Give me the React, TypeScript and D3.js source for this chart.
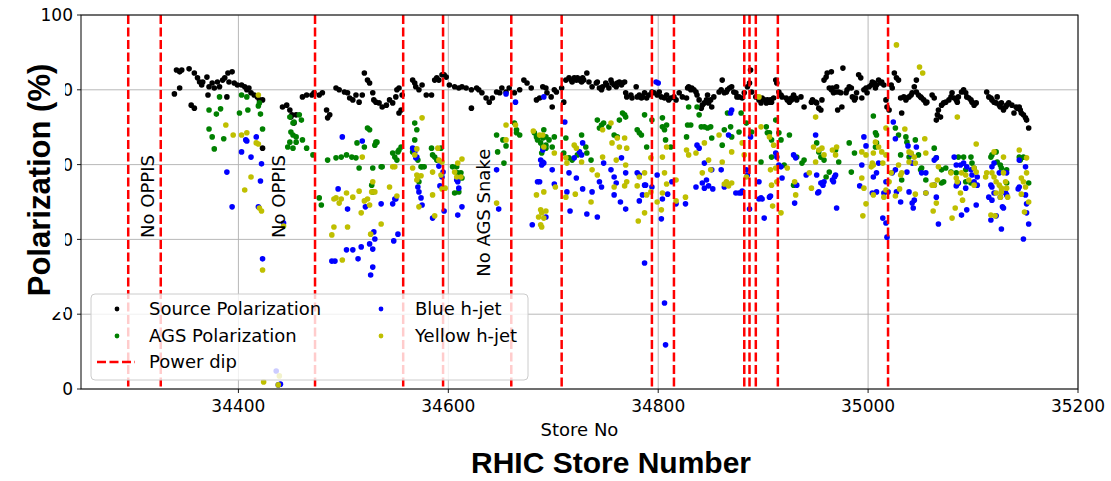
import React from "react";
import * as d3 from "d3";

// ---------- data (store number, polarization %) ----------
const sourcePol: [number, number][] = [
[34339,78.9],[34341,85.3],[34344,84.8],[34346,85.3],[34344,80.5],[34353,85.6],[34355,75.9],[34358,75.1],[34358,84.5],[34361,83.2],[34363,82.1],[34365,81.3],[34366,82.1],[34370,83.4],[34371,78.6],[34372,80.8],[34375,81.8],[34377,80.5],[34380,82.1],[34382,80.8],[34385,82.6],[34387,83.2],[34389,78.1],[34390,84.5],[34391,82.1],[34394,84.8],[34396,81.8],[34399,81.3],[34403,81.3],[34406,80.8],[34408,80.0],[34410,80.5],[34412,79.2],[34415,78.6],[34418,78.1],[34420,77.3],[34423,77.3],[34423,64.4],
[34442,75.4],[34446,75.9],[34449,74.6],[34451,73.3],[34453,71.1],[34450,72.7],[34455,73.3],[34461,78.1],[34465,78.6],[34470,78.6],[34472,79.2],[34477,78.6],[34480,79.2],[34484,74.6],[34487,73.3],[34485,72.5],[34493,80.5],[34496,80.0],[34501,79.4],[34504,79.2],[34506,77.8],[34509,77.3],[34512,78.6],[34515,76.7],[34518,78.6],[34520,84.5],[34523,82.6],[34525,81.8],[34528,79.2],[34529,77.3],[34531,76.7],[34534,76.5],[34537,75.4],[34541,75.9],[34544,77.3],[34547,76.5],[34550,78.1],[34551,80.0],[34553,80.5],[34555,74.6],[34556,78.6],[34553,73.8],[34566,82.6],[34568,81.8],[34569,80.8],[34572,80.0],[34575,81.3],[34579,78.6],[34584,78.6],[34587,82.6],[34589,83.2],[34591,82.6],[34594,84.0],[34596,84.0],[34598,83.4],[34601,81.3],[34606,80.8],[34610,80.5],[34613,80.8],[34617,80.5],[34622,80.0],[34622,75.1],[34627,80.5],[34629,80.0],[34632,79.2],[34636,77.8],[34639,76.7],[34642,77.8],[34646,79.4],[34649,79.2],[34651,80.5],[34655,79.4],[34658,80.5],[34663,79.2],[34668,80.0],[34672,82.6],[34675,81.8],[34679,80.5],[34684,77.3],[34687,77.8],[34690,80.8],
[34693,80.5],[34694,79.2],[34698,78.1],[34699,75.4],[34701,80.0],[34703,79.4],[34708,80.5],[34710,76.7],[34712,82.6],[34715,83.2],[34717,82.6],[34718,82.1],[34720,83.2],[34722,82.6],[34723,83.2],[34725,82.6],[34727,82.1],[34728,83.2],[34729,82.6],[34732,84.5],[34734,82.1],[34737,80.8],[34741,81.8],[34742,82.1],[34744,80.5],[34746,80.0],[34747,80.8],[34750,81.8],[34751,81.3],[34753,80.5],[34755,82.6],[34756,81.8],[34758,81.3],[34760,80.8],[34761,81.8],[34763,82.1],[34765,81.3],[34766,81.8],[34768,82.1],[34769,79.2],[34770,78.1],[34774,78.6],[34775,77.8],[34779,80.8],[34780,78.1],[34782,78.6],[34784,77.8],[34785,78.1],[34787,79.2],[34789,77.8],[34791,78.6],[34794,79.4],[34796,79.2],[34799,78.6],[34801,79.4],[34803,78.1],[34806,77.8],[34808,78.6],[34810,77.3],[34812,77.8],[34815,78.1],[34817,77.3],[34820,79.2],[34823,78.1],[34827,77.8],[34828,80.5],[34829,80.8],[34831,80.0],[34832,80.5],[34834,80.0],[34836,79.4],[34837,78.6],[34839,77.3],[34841,75.1],[34842,75.9],[34844,76.5],[34846,77.3],[34847,78.6],[34848,76.5],[34850,77.3],[34851,75.4],[34853,78.1],[34858,79.4],[34860,80.0],[34861,82.6],[34863,79.2],[34865,79.4],[34866,80.0],[34868,80.5],[34870,80.8],[34872,79.4],[34874,79.2],[34875,78.1],[34877,78.1],[34880,77.8],[34882,79.2],[34885,80.8],[34887,81.8],[34888,85.3],[34889,79.4],[34893,78.1],[34896,77.3],[34898,76.5],[34899,77.8],[34901,77.3],[34903,76.5],[34904,77.3],[34906,76.7],[34907,77.3],[34908,76.7],[34910,77.8],[34912,82.6],[34913,81.8],[34915,79.4],[34917,78.6],[34918,78.1],[34922,77.8],[34923,77.3],[34925,76.7],[34927,77.8],[34927,77.3],[34929,78.6],[34931,77.8],[34932,77.3],[34936,78.1],[34939,75.4],[34946,76.7],[34947,77.3],[34950,76.7],[34951,76.5],[34953,75.1],[34955,74.6],[34956,77.3],[34958,82.6],[34960,83.4],[34961,84.5],[34963,80.5],[34965,84.8],[34965,80.0],[34966,80.5],[34967,79.2],[34969,79.4],[34970,80.8],[34971,74.6],
[34972,79.4],[34974,79.2],[34975,75.4],[34976,85.8],[34979,79.2],[34980,80.0],[34982,80.8],[34984,80.5],[34985,78.1],[34987,77.3],[34988,77.8],[34989,79.2],[34991,84.0],[34993,83.2],[34994,77.8],[34996,80.0],[34998,80.5],[34999,79.2],[35001,80.8],[35003,81.3],[35004,82.1],[35006,81.8],[35007,80.5],[35008,81.3],[35010,82.6],[35012,81.8],[35013,82.1],[35015,81.3],[35017,77.3],[35018,75.4],[35020,74.6],[35022,81.3],[35023,80.5],[35025,84.5],[35027,83.2],[35029,82.6],[35031,77.8],[35032,73.8],[35034,78.1],[35036,77.3],[35037,77.8],[35039,78.1],[35041,78.6],[35042,79.2],[35044,80.8],[35046,82.6],[35046,79.4],[35048,78.6],[35050,78.1],[35051,77.8],[35053,77.3],[35055,76.5],[35056,76.7],[35061,78.6],[35063,77.8],[35065,71.9],[35066,73.3],[35067,74.6],[35069,72.7],[35070,75.9],[35072,76.5],[35074,76.7],[35077,77.3],[35079,78.1],[35080,79.2],[35082,77.8],[35084,77.3],[35085,76.7],[35086,78.1],[35089,79.4],[35091,80.0],[35093,79.2],[35094,78.1],[35096,77.8],[35098,77.3],[35099,76.7],[35101,75.9],[35103,76.5],[35113,79.4],[35115,78.1],[35117,77.8],[35118,77.3],[35120,76.7],[35122,76.5],[35123,78.1],[35125,75.9],[35126,75.4],[35127,76.5],[35129,74.6],[35131,75.4],[35132,75.9],[35134,76.5],[35137,75.9],[35139,73.8],[35141,75.4],[35142,75.1],[35144,75.4],[35145,74.6],[35146,73.8],[35148,73.3],[35150,72.5],[35151,71.9],[35153,69.8]
];

const agsPol: [number, number][] = [
[34382,78.1],[34403,78.6],[34408,78.1],[34372,74.6],[34383,74.9],[34379,73.5],[34401,73.8],[34409,74.6],[34420,76.5],[34419,75.7],[34421,73.5],[34372,69.5],[34375,67.4],[34386,66.9],[34377,64.2],[34423,69.5],
[34449,72.7],[34452,71.1],[34453,71.4],[34460,71.9],[34458,73.3],[34450,68.7],[34452,67.9],[34449,66.0],[34447,64.7],[34452,64.4],[34455,66.0],[34455,67.4],[34461,66.6],[34465,64.4],[34471,62.6],[34485,61.2],[34493,61.8],[34498,62.0],[34503,62.6],[34508,62.0],[34512,61.8],[34515,59.1],[34525,69.3],[34531,66.0],[34530,65.2],[34528,59.1],[34527,54.5],[34528,52.7],[34537,59.4],[34547,63.1],[34549,62.0],[34551,61.2],[34553,63.9],[34555,64.7],[34568,71.1],[34570,69.3],[34568,66.6],[34566,63.4],[34571,61.2],[34575,59.4],[34577,59.4],[34572,55.4],[34584,64.4],[34585,62.6],[34587,62.0],[34589,61.2],[34593,64.4],[34604,59.4],[34609,57.8],[34612,57.8],[34613,56.4],[34609,55.9],[34606,52.4],[34610,52.7],[34477,51.1],[34479,49.2],[34513,65.8],[34520,64.7],[34523,69.8],[34532,66.0],[34536,59.4],[34552,63.4],[34574,59.4],[34608,59.4],[34646,67.9],[34647,63.4],[34653,60.4],[34655,65.0],[34652,66.6],[34663,71.1],[34665,68.5],[34668,67.9],[34665,69.3],[34682,68.5],[34684,67.4],[34685,66.6],[34690,67.1],[34691,69.3],[34693,65.2],[34690,64.7],
[34693,67.4],[34688,65.8],[34696,66.6],[34701,67.4],[34699,64.7],[34693,64.4],[34689,63.1],[34712,67.1],[34710,63.1],[34715,61.8],[34718,61.2],[34723,62.6],[34727,67.9],[34731,64.7],[34732,63.1],[34736,61.2],[34742,71.9],[34744,69.8],[34746,70.6],[34748,71.1],[34753,70.1],[34758,67.9],[34761,67.4],[34763,71.9],[34766,73.8],[34768,73.3],[34769,72.7],[34780,69.3],[34782,68.5],[34784,67.9],[34787,73.3],[34789,64.7],[34794,71.9],[34804,72.5],[34804,70.1],[34806,69.3],[34808,70.6],[34807,66.6],[34812,64.7],[34827,67.4],[34828,70.6],[34831,70.6],[34829,75.4],[34837,75.4],[34839,73.3],[34841,70.1],[34844,70.1],[34847,69.8],[34850,70.1],[34851,67.1],[34861,65.2],[34863,69.3],[34866,73.8],[34869,70.1],[34870,67.4],[34877,68.7],[34879,73.8],[34884,71.1],[34889,68.7],[34898,60.7],[34903,70.1],[34904,68.5],[34906,68.5],[34908,66.6],[34908,62.0],[34912,71.9],[34915,68.5],[34917,66.6],[34920,59.9],[34925,67.9],[34932,62.0],[34937,60.4],[34939,61.2],[34951,65.8],[34953,63.4],[34955,62.0],[34958,61.2],[34960,56.7],[34963,58.0],[34929,54.5],
[35005,73.0],[35007,68.5],[35008,67.9],[35008,65.8],[35007,64.7],[35026,69.8],[35029,67.9],[35031,62.6],[35036,67.4],[35037,66.0],[35039,62.0],[35045,66.6],[35048,62.6],[35050,58.6],[35051,59.1],[35063,64.4],[35055,55.9],[35065,61.8],[35070,58.6],[35072,55.4],[35074,59.1],[35079,58.0],[35084,57.8],[35086,62.0],[35091,62.0],[35093,58.6],[35098,62.0],[35099,60.4],[35101,59.1],[35117,62.0],[35118,62.6],[35122,63.4],[35123,60.7],[35126,59.9],[35127,59.1],[35132,58.6],[35144,62.0],[35145,61.2],[35148,62.0],[35153,55.1],[34984,58.0],[34982,65.8],[34987,63.1],[34969,63.9],[34972,60.7],[35032,55.9],[35070,55.1],[35093,55.4],[35098,55.1],[35132,55.1]
];

const blueJet: [number, number][] = [
[34407,66.6],[34408,66.3],[34417,67.4],[34403,63.4],[34412,62.0],[34389,58.0],[34394,48.7],[34422,60.2],[34421,55.6],[34419,48.7],[34443,44.4],[34423,34.8],[34438,1.1],[34436,4.8],[34440,1.3],
[34499,67.4],[34518,66.3],[34495,53.5],[34504,48.1],[34566,64.4],[34569,61.8],[34568,63.4],[34570,62.0],[34571,54.0],[34572,52.7],[34574,51.1],[34575,49.2],[34591,59.6],[34594,56.7],[34595,58.0],[34608,55.9],[34610,53.7],[34613,48.7],[34549,50.8],[34655,78.9],[34664,76.7],[34691,78.1],[34646,58.6],[34690,63.9],[34690,60.7],[34691,60.4],[34687,55.4],[34489,34.2],[34492,34.2],[34503,37.2],[34509,37.2],[34514,34.8],[34517,38.0],[34525,38.8],[34528,37.4],[34528,32.6],[34526,30.5],[34521,48.7],[34536,49.5],[34529,42.0],[34530,40.1],[34547,49.5],[34550,50.8],[34548,39.6],[34552,41.4],[34585,45.7],[34592,54.3],[34596,47.6],[34609,46.5],[34609,55.4],[34648,48.1],[34680,43.9],[34685,55.4],[34693,46.0],
[34688,61.2],[34689,59.9],[34699,58.6],[34711,71.4],[34728,65.8],[34725,63.4],[34727,62.6],[34720,61.8],[34722,56.4],[34715,57.8],[34713,52.7],[34737,52.7],[34744,55.4],[34748,60.4],[34755,58.6],[34758,56.7],[34760,55.1],[34765,61.8],[34769,57.8],[34780,57.8],[34782,57.2],[34787,54.5],[34799,57.2],[34798,82.1],[34800,81.8],[34813,55.4],[34837,65.2],[34839,64.4],[34844,60.4],[34846,55.9],[34851,58.6],[34860,58.6],[34867,67.9],[34869,73.8],[34870,74.6],[34874,52.4],[34879,52.4],[34884,58.6],[34885,57.2],[34888,67.4],[34896,55.4],[34898,51.1],[34912,63.1],[34913,62.0],[34915,59.9],[34917,59.4],[34918,56.4],[34929,62.6],[34931,61.8],[34932,54.5],[34941,57.2],[34950,67.9],[34951,57.2],[34955,55.1],[34958,55.4],[34966,55.9],[34969,57.2],
[34701,54.8],[34716,47.6],[34728,53.5],[34732,46.8],[34742,46.0],[34746,54.0],[34758,51.9],[34764,50.0],[34769,48.1],[34782,50.3],[34785,51.9],[34788,54.5],[34794,54.0],[34803,45.5],[34804,50.8],[34787,33.7],[34806,23.0],[34807,11.8],[34809,52.1],[34817,49.5],[34826,49.5],[34836,54.0],[34842,55.1],[34844,53.7],[34848,54.3],[34852,53.5],[34863,54.0],[34877,52.4],[34880,52.9],[34887,48.1],[34896,50.8],[34899,50.8],[34901,45.7],[34906,51.3],[34907,51.6],[34930,49.7],[34957,54.5],[34952,52.4],[34970,48.4],
[35024,71.4],[35026,66.9],[34996,67.4],[34998,65.0],[35046,64.7],[35038,65.0],[35041,62.8],[35065,61.8],[35063,61.2],[35082,62.0],[35084,59.9],[35088,59.9],[35091,60.4],[35094,59.4],[35098,58.6],[35099,57.2],[35104,56.7],[35118,59.4],[35120,60.4],[35125,57.8],[35132,57.8],[35144,61.2],[35150,59.4],[35008,57.8],[35005,56.7],[35010,60.4],[35037,58.0],[35042,60.4],[35026,58.6],[35004,52.4],[35008,52.7],[34953,52.7],[34956,55.1],[34968,56.7],[34967,55.4],[34994,59.9],[35017,55.4],[35015,52.4],[35023,57.8],[35027,52.7],[35039,52.7],[35055,57.8],[35051,57.8],[35055,52.4],[35063,54.5],[35065,51.3],[35084,54.3],[35086,55.1],[35093,53.7],[35101,55.4],[35104,54.5],[35117,54.5],[35120,52.4],[35126,51.3],[35131,52.4],[35144,54.0],[35150,51.9],
[34992,54.3],[35014,45.7],[35017,44.4],[35018,40.6],[35019,52.7],[35031,50.0],[35042,49.7],[35043,48.4],[35044,50.5],[35067,44.1],[35085,54.8],[35089,46.5],[35094,47.9],[35103,49.2],[35115,51.3],[35118,50.5],[35118,54.0],[35117,45.2],[35122,46.3],[35127,42.8],[35128,48.7],[35129,48.4],[35132,51.9],[35143,53.5],[35148,40.1],[35151,49.5],[35151,47.1],[35153,44.1]
];

const yellowJet: [number, number][] = [
[34419,78.6],[34388,70.6],[34395,67.9],[34403,67.9],[34408,68.5],[34417,65.8],[34419,65.5],[34412,56.7],[34406,53.2],[34420,48.4],[34422,47.6],[34443,43.6],[34423,31.8],[34424,1.9],[34438,1.1],[34439,3.5],
[34491,50.8],[34498,50.8],[34509,51.3],[34518,62.0],[34527,52.7],[34530,52.7],[34523,50.8],[34544,54.0],[34547,59.4],[34551,51.6],[34566,59.1],[34570,64.2],[34575,72.5],[34570,57.2],[34571,56.7],[34574,57.0],[34585,51.9],[34590,64.4],[34591,61.2],[34594,60.7],[34593,57.2],[34608,56.7],[34609,60.4],[34613,61.5],
[34499,34.5],[34489,41.2],[34491,43.3],[34504,43.3],[34496,49.7],[34503,52.4],[34515,52.9],[34520,50.3],[34525,49.2],[34517,47.1],[34526,41.4],[34536,44.1],[34570,55.9],[34572,48.7],[34587,46.3],[34594,53.5],[34597,53.7],[34646,49.7],[34684,51.9],[34691,52.7],[34686,46.0],[34689,47.1],[34689,43.3],[34693,47.6],
[34568,62.6],[34549,59.4],[34528,55.4],[34493,51.1],[34585,58.0],[34606,58.0],[34655,66.6],[34655,70.6],[34664,70.6],[34681,69.0],[34687,67.9],[34690,67.9],[34612,56.7],
[34691,64.7],[34701,63.1],[34712,61.8],[34713,60.4],[34720,65.2],[34722,64.4],[34727,60.7],[34737,58.6],[34742,57.2],[34747,69.3],[34747,62.0],[34755,71.1],[34756,65.8],[34761,67.1],[34763,64.7],[34768,67.1],[34770,64.4],[34760,61.2],[34769,59.9],[34770,55.4],[34782,56.7],[34787,57.8],[34793,61.8],[34793,52.7],[34804,62.0],[34806,57.8],[34808,64.7],[34817,55.9],[34827,63.9],[34829,62.6],[34836,63.1],[34842,57.8],[34844,65.8],[34848,61.2],[34850,58.6],[34858,67.9],[34861,60.7],[34865,55.4],[34870,63.4],[34880,65.8],[34882,62.6],[34884,56.7],[34896,78.1],[34898,70.1],[34906,67.4],[34907,58.6],[34908,54.5],[34910,65.2],[34912,59.1],[34913,55.4],[34923,59.1],[34930,55.4],[34931,51.9],[34944,57.8],[34946,53.7],[34950,72.7],[34948,64.7],[34950,60.7],[34953,63.9],[34956,64.4],[34958,62.6],[34969,62.6],[34970,64.7],
[34688,47.9],[34691,45.7],[34688,43.9],[34702,54.0],[34712,51.3],[34721,52.1],[34736,50.0],[34758,54.0],[34768,54.3],[34780,54.3],[34781,44.9],[34787,47.1],[34789,51.9],[34799,50.0],[34803,47.9],[34804,52.4],[34808,54.8],[34817,50.3],[34826,51.3],[34863,54.8],[34867,54.3],[34870,55.1],[34909,48.9],[34917,47.1],
[35027,92.0],[35049,86.1],[35052,84.5],[35085,72.7],[35017,69.8],[35035,69.5],[35054,66.9],[35103,65.5],[35007,66.0],[35010,64.7],[35013,63.4],[35005,63.1],[34966,63.9],[34994,63.4],[34998,62.6],[35004,60.4],[35003,59.4],[35005,59.9],[35014,60.4],[35017,62.6],[35039,63.4],[35041,63.1],[35044,62.0],[35039,60.7],[35045,60.4],[35055,63.1],[35031,57.2],[35032,57.8],[35029,59.9],[35022,57.8],[35020,55.4],[34994,56.4],[34996,53.7],[35063,54.5],[35066,55.9],[35067,59.4],[35079,57.8],[35084,56.4],[35085,55.4],[35089,57.8],[35093,57.2],[35096,55.9],[35101,59.1],[35103,58.0],[35112,56.7],[35113,57.8],[35118,57.8],[35120,56.7],[35122,55.4],[35125,54.5],[35127,53.7],[35131,55.4],[35129,57.8],[35129,62.0],[35120,63.4],[35144,63.9],[35151,61.8],[35146,56.4],[35148,55.4],[35150,54.0],[35151,57.8],[35045,52.1],[35026,51.6],[35055,52.4],[35005,51.9],[35015,51.3],
[34998,49.5],[34995,46.3],[35017,53.2],[35030,53.5],[35061,54.5],[35065,49.7],[35062,47.6],[35083,48.4],[35080,45.7],[35088,52.4],[35090,50.5],[35101,54.5],[35117,46.5],[35121,46.3],[35122,52.4],[35126,51.3],[35127,52.7],[35132,53.7],[35133,51.3],[35146,52.1],[35149,47.3],[35153,50.0]
];

const powerDips: number[] = [34295, 34326, 34473, 34557, 34595, 34660, 34708, 34794, 34815, 34882, 34887, 34893, 34914, 35019];

const noteLabels: string[] = ["No OPPIS", "No OPPIS", "No AGS Snake"];
const noteStores: number[] = [34320, 34444, 34640];
const notePols: number[] = [40.4, 40.4, 30.0];

const xTicks: number[] = [34400, 34600, 34800, 35000, 35200];
const yTicks: number[] = [0, 20, 40, 60, 80, 100];

const seriesNames: string[] = ["Source Polarization", "AGS Polarization", "Power dip", "Blue h-jet", "Yellow h-jet"];

// ---------- layout ----------
const W = 1111;
const H = 481;
const L = 81, R = 1078, T = 15, B = 389;
const FONT = "DejaVu Sans, sans-serif";
const BOLD = "Liberation Sans, Arial, sans-serif";

export default function App() {
  const x = d3.scaleLinear().domain([34250, 35200]).range([L, R]);
  const y = d3.scaleLinear().domain([0, 100]).range([B, T]);
  const r = 2.8;

  const dots = (data: [number, number][], color: string, key: string) =>
    data.map((d, i) => (
      <circle key={key + i} cx={x(d[0])} cy={y(d[1])} r={r} fill={color} />
    ));

  const legX = 91, legY = 294, legW = 437, legH = 86;
  const rowY = [309, 336, 362];

  return (
    <svg width={W} height={H} style={{ position: "absolute", left: 0, top: 0, background: "#fff" }}>
      <rect x={0} y={0} width={W} height={H} fill="#fff" />
      {/* grid */}
      {xTicks.map((t) => (
        <line key={"gx" + t} x1={x(t)} x2={x(t)} y1={T} y2={B} stroke="#b0b0b0" strokeWidth={0.9} />
      ))}
      {yTicks.map((t) => (
        <line key={"gy" + t} x1={L} x2={R} y1={y(t)} y2={y(t)} stroke="#b0b0b0" strokeWidth={0.9} />
      ))}
      <g>{dots(sourcePol, "#000000", "s")}</g>
      <g>{dots(agsPol, "#008000", "a")}</g>
      <g>{dots(blueJet, "#0000ff", "b")}</g>
      <g>{dots(yellowJet, "#bfbf00", "y")}</g>
      {/* power dips */}
      {powerDips.map((p, i) => (
        <line key={"pd" + i} x1={x(p)} x2={x(p)} y1={T} y2={B} stroke="#ff0000" strokeWidth={2.5} strokeDasharray="9,3.5" />
      ))}
      {/* annotations */}
      {noteLabels.map((s, i) => (
        <text key={"n" + i} transform={`translate(${x(noteStores[i])},${y(notePols[i])}) rotate(-90)`} fontFamily={FONT} fontSize={18} fill="#000">
          {s}
        </text>
      ))}
      {/* spines */}
      <rect x={L} y={T} width={R - L} height={B - T} fill="none" stroke="#000" strokeWidth={1} />
      {/* ticks */}
      {xTicks.map((t) => (
        <g key={"xt" + t}>
          <line x1={x(t)} x2={x(t)} y1={B} y2={B + 4} stroke="#000" strokeWidth={0.9} />
          <text x={x(t)} y={B + 23} textAnchor="middle" fontFamily={FONT} fontSize={17} fill="#000">{t}</text>
        </g>
      ))}
      {yTicks.map((t) => (
        <g key={"yt" + t}>
          <line x1={L - 4} x2={L} y1={y(t)} y2={y(t)} stroke="#000" strokeWidth={0.9} />
          <text x={L - 8} y={y(t)} dy="0.36em" textAnchor="end" fontFamily={FONT} fontSize={17} fill="#000">{t}</text>
        </g>
      ))}
      <text x={(L + R) / 2} y={436} textAnchor="middle" fontFamily={FONT} fontSize={18} fill="#000">Store No</text>
      {/* overlaid big labels */}
      <rect x={0} y={24} width={65} height={288} fill="#fff" />
      <text transform={`translate(50,180) rotate(-90)`} textAnchor="middle" fontFamily={BOLD} fontWeight="bold" fontSize={31} fill="#000">
        Polarization (%)
      </text>
      <text x={611} y={473} textAnchor="middle" fontFamily={BOLD} fontWeight="bold" fontSize={30} fill="#000">
        RHIC Store Number
      </text>
      {/* legend */}
      <rect x={legX} y={legY} width={legW} height={legH} rx={4} fill="#fff" fillOpacity={0.8} stroke="#cccccc" strokeWidth={1} />
      <circle cx={117} cy={rowY[0]} r={2.4} fill="#000000" />
      <circle cx={117} cy={rowY[1]} r={2.4} fill="#008000" />
      <line x1={97} x2={135} y1={rowY[2]} y2={rowY[2]} stroke="#ff0000" strokeWidth={2.5} strokeDasharray="9,3.5" />
      <circle cx={381} cy={rowY[0]} r={2.4} fill="#0000ff" />
      <circle cx={381} cy={rowY[1]} r={2.4} fill="#bfbf00" />
      <text x={149} y={rowY[0]} dy="0.36em" fontFamily={FONT} fontSize={18}>{seriesNames[0]}</text>
      <text x={149} y={rowY[1]} dy="0.36em" fontFamily={FONT} fontSize={18}>{seriesNames[1]}</text>
      <text x={149} y={rowY[2]} dy="0.36em" fontFamily={FONT} fontSize={18}>{seriesNames[2]}</text>
      <text x={415} y={rowY[0]} dy="0.36em" fontFamily={FONT} fontSize={18}>{seriesNames[3]}</text>
      <text x={415} y={rowY[1]} dy="0.36em" fontFamily={FONT} fontSize={18}>{seriesNames[4]}</text>
    </svg>
  );
}
